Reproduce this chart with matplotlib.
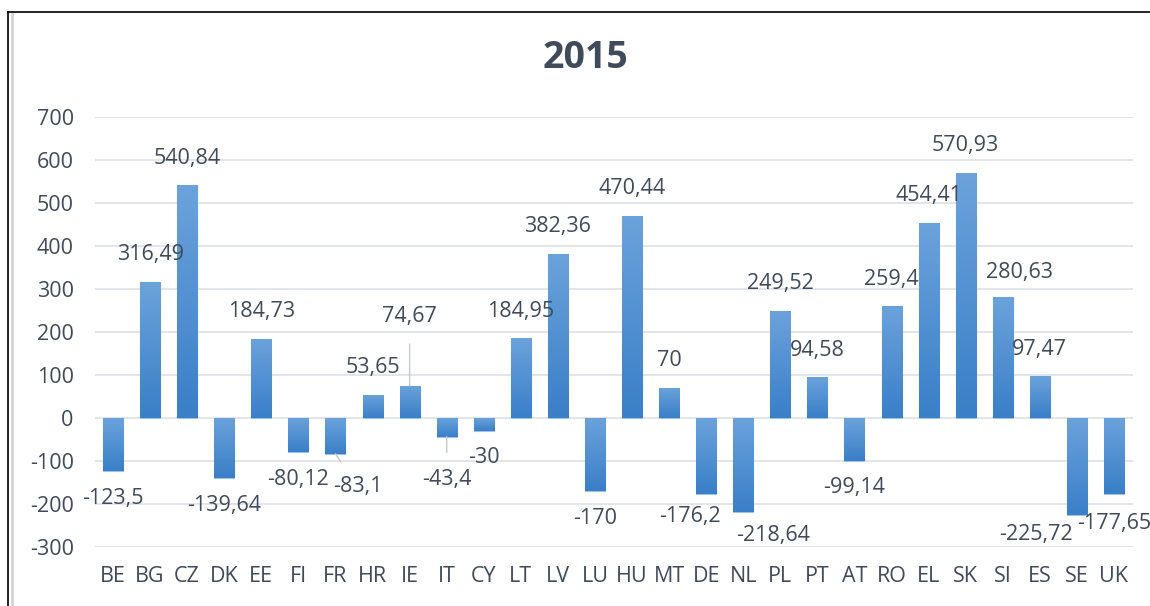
import numpy as np
import matplotlib
matplotlib.use("Agg")
import matplotlib.pyplot as plt
from matplotlib.colors import LinearSegmentedColormap
from matplotlib.lines import Line2D

# data
countries = ["BE", "BG", "CZ", "DK", "EE", "FI", "FR", "HR", "IE", "IT", "CY", "LT", "LV", "LU",
             "HU", "MT", "DE", "NL", "PL", "PT", "AT", "RO", "EL", "SK", "SI", "ES", "SE", "UK"]
values = [-123.5, 316.49, 540.84, -139.64, 184.73, -80.12, -83.1, 53.65, 74.67, -43.4, -30, 184.95,
          382.36, -170, 470.44, 70, -176.2, -218.64, 249.52, 94.58, -99.14, 259.4, 454.41, 570.93,
          280.63, 97.47, -225.72, -177.65]
title = "2015"
yticks = [-300, -200, -100, 0, 100, 200, 300, 400, 500, 600, 700]

# label placement (pixels from the bar end); default is 27 px outside
label_shift = {"FR": (22, -33), "IE": (0, 69), "IT": (0, -43), "DE": (-16, -23),
               "NL": (30, -23), "SI": (17, 25), "SE": (-41, -19), "UK": (0, -29)}
leaders = {"FR", "IE", "IT"}

TXT = "#3f4a5a"
FS = 15.5
plt.rcParams["font.family"] = ["Open Sans", "DejaVu Sans"]
plt.rcParams["axes.unicode_minus"] = False

W, H = 1150, 606
fig = plt.figure(figsize=(W / 100, H / 100), dpi=100)
ax = fig.add_axes([94.5 / W, 1 - 547 / H, 1038 / W, 430 / H])

x = np.arange(len(countries))
bars = ax.bar(x, values, width=0.54, color="#4a8fd4", edgecolor="#9cc3ea", linewidth=0.8, zorder=3)

# vertical gradient inside every bar: darker bottom, lighter top
cmap = LinearSegmentedColormap.from_list("g", ["#3a7fc8", "#6ba2db"])
grad = np.linspace(0, 1, 64).reshape(-1, 1)
for b in bars:
    x0, y0 = b.get_x(), b.get_y()
    w, h = b.get_width(), b.get_height()
    ylo, yhi = min(y0, y0 + h), max(y0, y0 + h)
    im = ax.imshow(grad, extent=[x0, x0 + w, ylo, yhi], origin="lower", aspect="auto",
                   cmap=cmap, zorder=3.5, interpolation="bilinear")
    im.set_clip_path(b)

ax.set_xlim(-0.5, len(countries) - 0.5)
ax.set_ylim(-300, 700)
ax.set_yticks(yticks)
ax.set_xticks(x)
ax.set_xticklabels(countries)
ax.grid(axis="y", color="#dfe3ea", linewidth=1.3, zorder=0)
for s in ax.spines.values():
    s.set_visible(False)
ax.tick_params(axis="both", length=0, labelsize=FS, colors=TXT)
ax.tick_params(axis="y", pad=15)
ax.tick_params(axis="x", pad=14)

for xi, c, v in zip(x, countries, values):
    lab = f"{v:g}".replace(".", ",")
    off = label_shift.get(c, (0, 27 if v >= 0 else -27))
    kw = dict(xy=(xi, v), xytext=off, textcoords="offset pixels",
              ha="center", va="center", fontsize=FS, color=TXT, zorder=5)
    if c in leaders:
        kw["arrowprops"] = dict(arrowstyle="-", color="#c3c9d1", lw=1, shrinkA=10, shrinkB=0)
    ax.annotate(lab, **kw)

fig.text(585 / W, 1 - 58 / H, title, ha="center", va="center", fontsize=27,
         fontweight="bold", color=TXT)

# frame of the chart object
fig.add_artist(Line2D([8 / W, 8 / W], [0, 1 - 12 / H], transform=fig.transFigure, color="black", lw=1.2))
fig.add_artist(Line2D([8 / W, 1], [1 - 12 / H, 1 - 12 / H], transform=fig.transFigure, color="black", lw=1.2))
fig.add_artist(Line2D([11.5 / W, 11.5 / W], [0, 1 - 14 / H], transform=fig.transFigure, color="#d4d4d4", lw=2))

fig.savefig("out.png", dpi=100)
